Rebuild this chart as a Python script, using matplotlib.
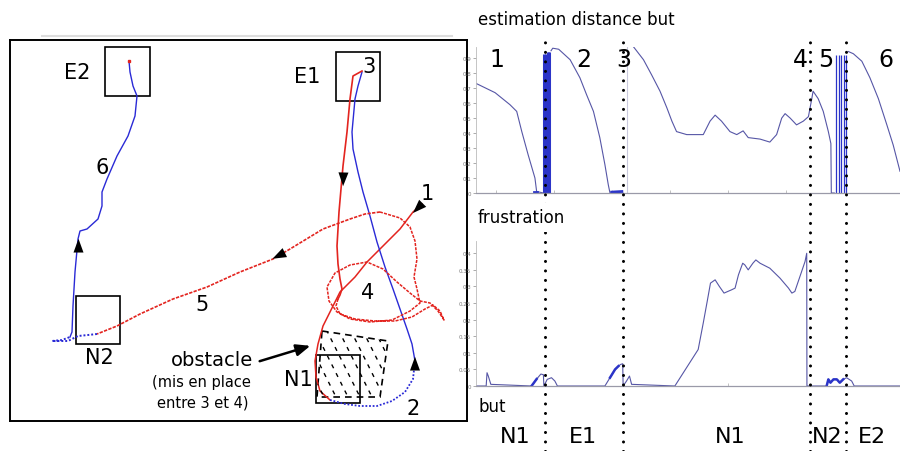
import numpy as np
import matplotlib
matplotlib.use("Agg")
from matplotlib import pyplot as plt
from matplotlib import transforms
from matplotlib.patches import Polygon, Rectangle

# ---------------- left panel : robot trajectory (image coords, y downwards)
# phase 1 (red) : start -> N1
p1_x = [422, 413, 400, 383, 367, 355, 340, 330, 323, 318, 315, 316, 320, 330]
p1_y = [205, 213, 230, 247, 263, 278, 293, 313, 327, 345, 362, 378, 392, 401]
# phase 2 (blue) : N1 -> E1 (first part dotted)
p2a_x = [330, 345, 360, 377, 392, 405, 413, 415]
p2a_y = [401, 405, 407, 407, 402, 393, 380, 362]
p2b_x = [415, 412, 407, 400, 393, 385, 377, 370, 363, 358, 353, 352, 355, 358, 362]
p2b_y = [362, 345, 330, 310, 290, 268, 243, 217, 193, 173, 150, 133, 100, 87, 73]
# phase 3 (red) : E1 -> back down
p3_x = [362, 353, 350, 347, 343, 341, 339, 337, 338, 340, 342, 340, 338]
p3_y = [72, 77, 100, 133, 167, 190, 213, 247, 265, 280, 290, 296, 300]
# phase 4 (red) : loops around the obstacle
p4_x = [338, 336, 340, 355, 375, 395, 412, 425, 433, 440, 444, 438, 430, 420, 410, 397, 383,
        367, 350, 335, 327, 329, 337, 350, 370, 392, 410, 420, 417, 414, 417, 415, 410, 400, 380]
p4_y = [300, 307, 315, 320, 322, 322, 318, 310, 306, 312, 321, 312, 304, 302, 294, 283, 270,
        263, 266, 274, 288, 302, 313, 320, 323, 321, 312, 304, 290, 278, 260, 242, 228, 219, 213]
# phase 5 (red) : -> N2
p5_x = [380, 365, 350, 323, 290, 273, 240, 207, 173, 140, 117, 97]
p5_y = [213, 215, 220, 230, 250, 260, 273, 288, 300, 315, 327, 335]
# phase 6 (blue) : N2 -> E2
p6a_x = [97, 88, 78, 68, 60, 52, 62, 70]
p6a_y = [335, 336, 337, 342, 342, 342, 341, 338]
p6b_x = [70, 72, 73, 75, 78, 80, 87, 98, 102, 102, 107, 117, 128, 135, 137, 133, 130, 129]
p6b_y = [338, 333, 307, 273, 240, 232, 230, 220, 207, 193, 180, 157, 137, 117, 97, 87, 73, 62]

# arrows along the path (tail x, tail y, tip x, tip y)
arrows = [(343.5, 172, 343, 190), (426, 201, 411, 216), (290, 251, 270, 261),
          (415, 376, 415, 355), (78.5, 258, 78.5, 237)]

# places (boxes) : name, left, top, right, bottom
places = [("E2", 105, 48, 150, 97), ("E1", 336, 53, 380, 102),
          ("N2", 76, 297, 120, 345), ("N1", 316, 356, 360, 404)]
obstacle_x = [322, 388, 380, 317]
obstacle_y = [332, 342, 398, 398]

# ---------------- right panels (time axis 0..100)
bounds = [16.3, 34.7, 78.8, 87.3]
phase_num = ["1", "2", "3", "4", "5", "6"]
phase_num_t = [5.0, 25.5, 34.9, 76.4, 82.5, 96.7]
goal_names = ["N1", "E1", "N1", "N2", "E2"]
goal_t = [9.2, 25.2, 59.9, 82.8, 93.4]

d1_t = [0.15, 4.5, 8.0, 9.6, 10.8, 12.3, 13.9, 14.3, 15.9]
d1_v = [0.73, 0.67, 0.59, 0.545, 0.41, 0.255, 0.10, 0.01, 0.0]
d2_t = [17.7, 18.1, 19.5, 22.2, 24.5, 26.1, 27.7, 29.2, 30.4, 31.2, 31.6, 34.6]
d2_v = [0.95, 0.967, 0.96, 0.89, 0.77, 0.655, 0.545, 0.37, 0.19, 0.055, 0.0, 0.0]
d3_t = [37.1, 39.5, 41.4, 43.4, 45.0, 46.2, 47.3, 49.7, 53.6, 55.2, 56.4, 57.9, 59.9, 61.5,
        63.0, 64.2, 67.0, 69.3, 70.9, 72.1, 72.9, 74.1, 75.6, 77.2, 78.4, 79.2, 79.5, 80.7,
        81.9, 83.1, 83.7, 83.8, 84.5]
d3_v = [0.978, 0.89, 0.79, 0.68, 0.57, 0.48, 0.41, 0.39, 0.39, 0.48, 0.52, 0.48, 0.41, 0.39,
        0.415, 0.37, 0.36, 0.34, 0.39, 0.5, 0.53, 0.5, 0.455, 0.48, 0.51, 0.63, 0.68, 0.63,
        0.545, 0.41, 0.33, 0.0, 0.0]
d4_t = [87.8, 89.0, 91.0, 92.9, 94.9, 96.9, 98.4, 100]
d4_v = [0.945, 0.93, 0.88, 0.77, 0.63, 0.455, 0.32, 0.145]
bars1_t = [16.1, 16.5, 16.9, 17.3]
bars1_h = [0.93, 0.93, 0.94, 0.94]
bars2_t = [84.9, 85.5, 86.1, 86.7, 87.3]
bars2_h = [0.92, 0.92, 0.92, 0.92, 0.92]
switch_t = 35.6

f_t = [0, 2.4, 2.6, 2.9, 3.5, 13.1, 14.3, 15.3, 15.9, 16.0, 16.8, 17.8, 18.6, 19.2, 30.4, 31.6,
       32.8, 33.6, 34.1, 34.6, 34.7, 35.5, 36.2, 36.7, 46.9, 48.9, 50.9, 52.4, 53.6, 54.6, 55.3,
       56.4, 57.4, 58.5, 60.3, 61.1, 61.9, 62.9, 63.4, 64.2, 65.3, 66.0, 67.0, 69.3, 71.7, 73.7,
       74.5, 75.2, 76.4, 77.6, 78.0, 78.05, 82.7, 83.1, 83.6, 84.3, 85.1, 85.8, 86.6, 87.4, 88.6,
       89.2, 100]
f_v = [0, 0, 0.04, 0.03, 0.005, 0, 0.021, 0.036, 0.034, 0, 0.02, 0.025, 0.015, 0, 0, 0.025,
       0.05, 0.06, 0.065, 0.067, 0, 0.015, 0.03, 0.005, 0, 0.04, 0.08, 0.11, 0.19, 0.26, 0.31,
       0.32, 0.30, 0.28, 0.29, 0.295, 0.335, 0.37, 0.365, 0.35, 0.37, 0.38, 0.37, 0.355, 0.325,
       0.295, 0.28, 0.285, 0.33, 0.375, 0.40, 0, 0, 0.02, 0.01, 0.02, 0.02, 0.01, 0.02, 0.025,
       0.015, 0, 0]
dark_ranges = [(13.0, 14.6), (31.0, 34.0), (82.6, 86.8)]

RED = "#e3241f"
BLUE = "#2a2ad6"
CURVE = "#5656a6"

fig = plt.figure(figsize=(9, 4.52), dpi=100)
W, H = 900.0, 452.0

# ---- map
ax = fig.add_axes([10 / W, 1 - 422 / H, 457 / W, 381 / H])
ax.set_xlim(10, 467)
ax.set_ylim(422, 41)
ax.set_xticks([])
ax.set_yticks([])
for s in ax.spines.values():
    s.set_linewidth(1.4)

ax.plot(p1_x, p1_y, color=RED, lw=1.1)
ax.plot(p2a_x, p2a_y, color=BLUE, lw=1.3, ls=(0, (1, 1)))
ax.plot(p2b_x, p2b_y, color=BLUE, lw=1.0)
ax.plot(p3_x, p3_y, color=RED, lw=1.2)
ax.plot(p4_x, p4_y, color=RED, lw=1.1, ls=(0, (2, 0.8)))
ax.plot(p5_x, p5_y, color=RED, lw=1.2, ls=(0, (2, 0.8)))
ax.plot(p6a_x, p6a_y, color=BLUE, lw=1.4, ls=(0, (1, 1)))
ax.plot(p6b_x, p6b_y, color=BLUE, lw=1.0)
ax.plot([p6b_x[-1]], [p6b_y[-1]], "s", color=RED, ms=1.5)

for (x0, y0, x1, y1) in arrows:
    ax.annotate("", xy=(x1, y1), xytext=(x0, y0),
                arrowprops=dict(arrowstyle="-|>,head_length=0.55,head_width=0.2",
                                color="k", lw=0, mutation_scale=18))

# obstacle : dashed outline and dashed hatching
obst = Polygon(list(zip(obstacle_x, obstacle_y)), closed=True, fill=False,
               ec="k", lw=1.2, ls=(0, (4, 3)))
ax.add_patch(obst)
for c in np.arange(250, 420, 12):
    hl, = ax.plot([c, c + 60], [322, 442], color="k", lw=1.0, ls=(0, (3, 4)))
    hl.set_clip_path(obst)

for name, l, t, r, b in places:
    ax.add_patch(Rectangle((l, t), r - l, b - t, fill=False, ec="k", lw=1.2))

ax.text(77, 73, "E2", fontsize=15, ha="center", va="center")
ax.text(307, 77, "E1", fontsize=15, ha="center", va="center")
ax.text(99, 358, "N2", fontsize=15, ha="center", va="center")
ax.text(298, 380, "N1", fontsize=15, ha="center", va="center")
ax.text(369, 67, "3", fontsize=15, ha="center", va="center")
ax.text(102, 168, "6", fontsize=15, ha="center", va="center")
ax.text(427, 194, "1", fontsize=15, ha="center", va="center")
ax.text(368, 293, "4", fontsize=15, ha="center", va="center")
ax.text(202, 305, "5", fontsize=15, ha="center", va="center")
ax.text(413, 409, "2", fontsize=15, ha="center", va="center")
ax.text(212, 361, "obstacle", fontsize=14, ha="center", va="center")
ax.text(201, 383, "(mis en place", fontsize=10.5, ha="center", va="center")
ax.text(203, 403, "entre 3 et 4)", fontsize=10.5, ha="center", va="center")
ax.annotate("", xy=(313, 346), xytext=(257, 363),
            arrowprops=dict(arrowstyle="-|>,head_length=0.6,head_width=0.25",
                            color="k", lw=1.8, mutation_scale=14))
fig.add_artist(plt.Line2D([42 / W, 452 / W], [1 - 37 / H, 1 - 37 / H], color="#dddddd", lw=1.5))

# ---- estimation distance but
ax1 = fig.add_axes([476 / W, 1 - 194 / H, 424 / W, 146 / H])
ax1.set_xlim(0, 100)
ax1.set_ylim(0, 0.975)
ax1.plot(d1_t, d1_v, color=CURVE, lw=0.8)
ax1.plot(d2_t, d2_v, color=CURVE, lw=0.8)
ax1.plot(d3_t, d3_v, color=CURVE, lw=0.8)
ax1.plot(d4_t, d4_v, color=CURVE, lw=0.8)
ax1.vlines(bars1_t, 0, bars1_h, color="#2b34c8", lw=2.2)
ax1.vlines(bars2_t, 0, bars2_h, color="#2b34c8", lw=0.9)
ax1.vlines([switch_t], 0, 0.98, color="#c9c9dd", lw=0.8)
ax1.plot([13.6, 14.3], [0.005, 0.005], color="#2b34c8", lw=2)
ax1.plot([32.0, 34.4], [0.006, 0.01], color="#2b34c8", lw=2)
ax1.set_yticks(np.arange(0, 0.91, 0.1))
ax1.set_yticklabels(["0"] + ["%.1f" % v for v in np.arange(0.1, 0.91, 0.1)])
ax1.set_xticks([4.6, 18.3, 32.1, 45.8, 59.5, 73.2, 86.9])
ax1.set_xticklabels([])

# ---- frustration
ax2 = fig.add_axes([476 / W, 1 - 387 / H, 424 / W, 145 / H])
ax2.set_xlim(0, 100)
ax2.set_ylim(0, 0.437)
ax2.plot(f_t, f_v, color=CURVE, lw=0.8)
ft = np.array(f_t)
fv = np.array(f_v)
for a, b in dark_ranges:
    m = (ft >= a) & (ft <= b)
    ax2.plot(ft[m], fv[m], color="#2b34c8", lw=1.8)
ax2.set_yticks(np.arange(0, 0.41, 0.05))
ax2.set_yticklabels(["0", "0.05", "0.1", "0.15", "0.2", "0.25", "0.3", "0.35", "0.4"])
ax2.set_xticks([59.5])
ax2.set_xticklabels([])

for a in (ax1, ax2):
    for side in ("top", "right"):
        a.spines[side].set_visible(False)
    a.spines["left"].set_color("#bbbbbb")
    a.spines["left"].set_linewidth(0.6)
    a.spines["bottom"].set_color("#9a9aa8")
    a.spines["bottom"].set_linewidth(0.9)
    a.tick_params(axis="y", labelsize=4, length=2.5, width=0.5, colors="#8a8a8a",
                  labelcolor="#7a7a7a", pad=1)
    a.tick_params(axis="x", direction="in", length=2.5, width=0.5, colors="#aaaaaa")
    a.patch.set_alpha(0)

# ---- separators and labels
ov = fig.add_axes([476 / W, 0, 424 / W, 1 - 40 / H])
ov.set_xlim(0, 100)
ov.set_ylim(0, 1)
ov.axis("off")
for b in bounds:
    ov.axvline(b, color="k", lw=2.2, ls=(0, (0.01, 3.1)), dash_capstyle="round")
tr = transforms.blended_transform_factory(ov.transData, fig.transFigure)
for lab, t in zip(phase_num, phase_num_t):
    ov.text(t, 1 - 60 / H, lab, fontsize=17, ha="center", va="center", transform=tr)
for lab, t in zip(goal_names, goal_t):
    ov.text(t, 1 - 437 / H, lab, fontsize=16, ha="center", va="center", transform=tr)

fig.text(478 / W, 1 - 20 / H, "estimation distance but", fontsize=12, va="center")
fig.text(478 / W, 1 - 218 / H, "frustration", fontsize=12, va="center",
         bbox=dict(facecolor="white", edgecolor="none", pad=4))
fig.text(478 / W, 1 - 407 / H, "but", fontsize=12, va="center")

fig.savefig("out.png", dpi=100)
